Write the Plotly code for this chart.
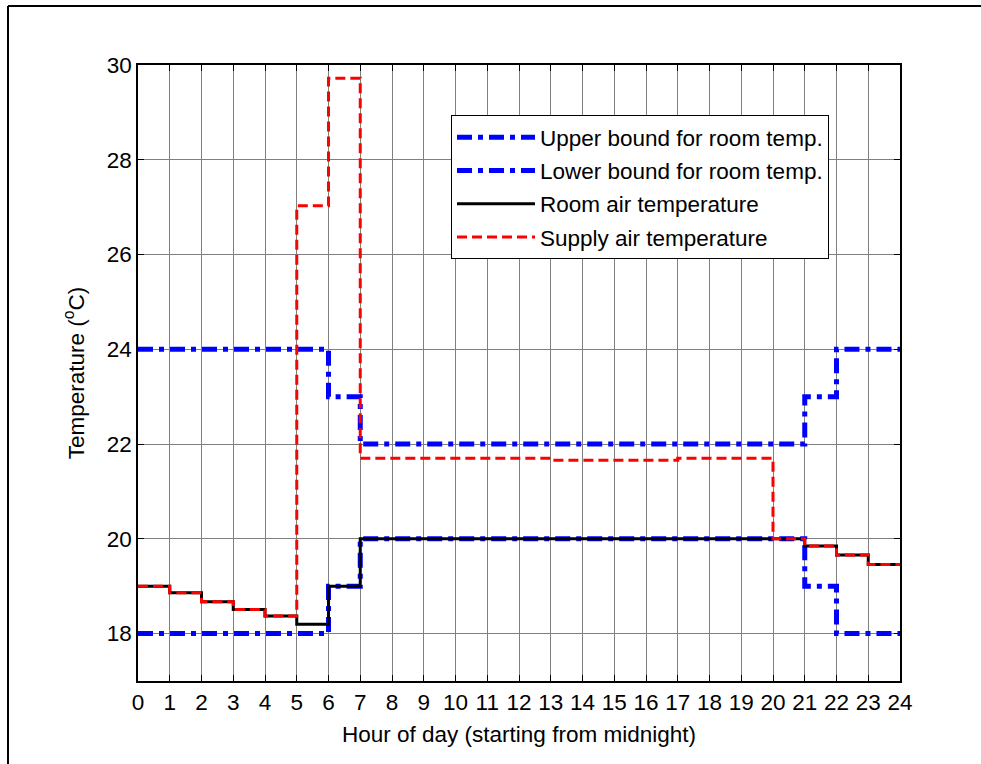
import plotly.graph_objects as go

hours = list(range(25))
upper_bound = [24, 24, 24, 24, 24, 24, 23, 22, 22, 22, 22, 22, 22, 22, 22, 22, 22, 22, 22, 22, 22, 23, 24, 24]
lower_bound = [18, 18, 18, 18, 18, 18, 19, 20, 20, 20, 20, 20, 20, 20, 20, 20, 20, 20, 20, 20, 20, 19, 18, 18]
room_temp = [19.0, 18.86, 18.67, 18.51, 18.37, 18.2, 19.0, 20.0, 20.0, 20.0, 20.0, 20.0, 20.0, 20.0,
             20.0, 20.0, 20.0, 20.0, 20.0, 20.0, 20.0, 19.85, 19.66, 19.46]
supply_temp = [19.0, 18.86, 18.67, 18.51, 18.37, 27.03, 29.72, 21.7, 21.7, 21.7, 21.7, 21.7, 21.7, 21.66,
               21.66, 21.66, 21.66, 21.7, 21.7, 21.7, 20.0, 19.85, 19.66, 19.46]
x_ticks = list(range(0, 25))
y_ticks = [18, 20, 22, 24, 26, 28, 30]

def ext(v):
    return v + [v[-1]]

FONT = "Liberation Sans, Arial, sans-serif"
FS = 22.5
fig = go.Figure()
blue_dash = "15px,6px,5px,6px"
fig.add_trace(go.Scatter(x=hours, y=ext(upper_bound), mode="lines", line_shape="hv",
                         name="Upper bound for room temp.", legendgroup="a",
                         line=dict(color="#0000ff", width=5, dash=blue_dash)))
fig.add_trace(go.Scatter(x=hours, y=ext(lower_bound), mode="lines", line_shape="hv",
                         name="Lower bound for room temp.", legendgroup="b",
                         line=dict(color="#0000ff", width=5, dash=blue_dash)))
fig.add_trace(go.Scatter(x=hours, y=ext(room_temp), mode="lines", line_shape="hv",
                         name="Room air temperature", legendgroup="c",
                         line=dict(color="#000000", width=3)))
fig.add_trace(go.Scatter(x=hours, y=ext(supply_temp), mode="lines", line_shape="hv",
                         name="Supply air temperature", legendgroup="d",
                         line=dict(color="#ff0000", width=3, dash="10px,5px")))

L, R, T, B = 138, 81, 65, 83
W, H = 981, 764
pw, ph = W - L - R, H - T - B

fig.update_layout(
    width=W, height=H,
    margin=dict(l=L, r=R, t=T, b=B),
    paper_bgcolor="white", plot_bgcolor="white",
    font=dict(family=FONT, size=FS, color="black"),
    showlegend=True,
    legend=dict(x=(451 - L) / pw, y=(H - B - 115) / ph, xanchor="left", yanchor="top",
                bgcolor="white", bordercolor="black", borderwidth=1,
                font=dict(family=FONT, size=FS, color="black"),
                tracegroupgap=1, itemwidth=78),
)
fig.update_xaxes(range=[0, 24], tickvals=x_ticks, ticktext=[str(t) for t in x_ticks],
                 showgrid=True, gridcolor="#808080", gridwidth=1,
                 showline=True, linecolor="black", linewidth=1.5, mirror="allticks",
                 ticks="inside", ticklen=6, tickcolor="black", zeroline=False,
                 tickfont=dict(family=FONT, size=FS),
                 title=dict(text="Hour of day (starting from midnight)", standoff=12,
                            font=dict(family=FONT, size=FS)))
fig.update_yaxes(range=[17, 30], tickvals=y_ticks, ticktext=[str(t) for t in y_ticks],
                 showgrid=True, gridcolor="#808080", gridwidth=1,
                 showline=True, linecolor="black", linewidth=1.5, mirror="allticks",
                 ticks="inside", ticklen=6, tickcolor="black", zeroline=False,
                 tickfont=dict(family=FONT, size=FS),
                 title=dict(text="Temperature (<sup>o</sup>C)", standoff=16,
                            font=dict(family=FONT, size=FS)))

# figure frame (top and left edges)
x_frame = (8 - L) / pw
y_frame = (H - B - 6) / ph
fig.add_shape(type="line", xref="paper", yref="paper", x0=x_frame, x1=(W - L) / pw + 0.01,
              y0=y_frame, y1=y_frame, line=dict(color="black", width=2))
fig.add_shape(type="line", xref="paper", yref="paper", x0=x_frame, x1=x_frame,
              y0=y_frame, y1=-(B + 5) / ph, line=dict(color="black", width=2))

fig.write_html("out.html")
